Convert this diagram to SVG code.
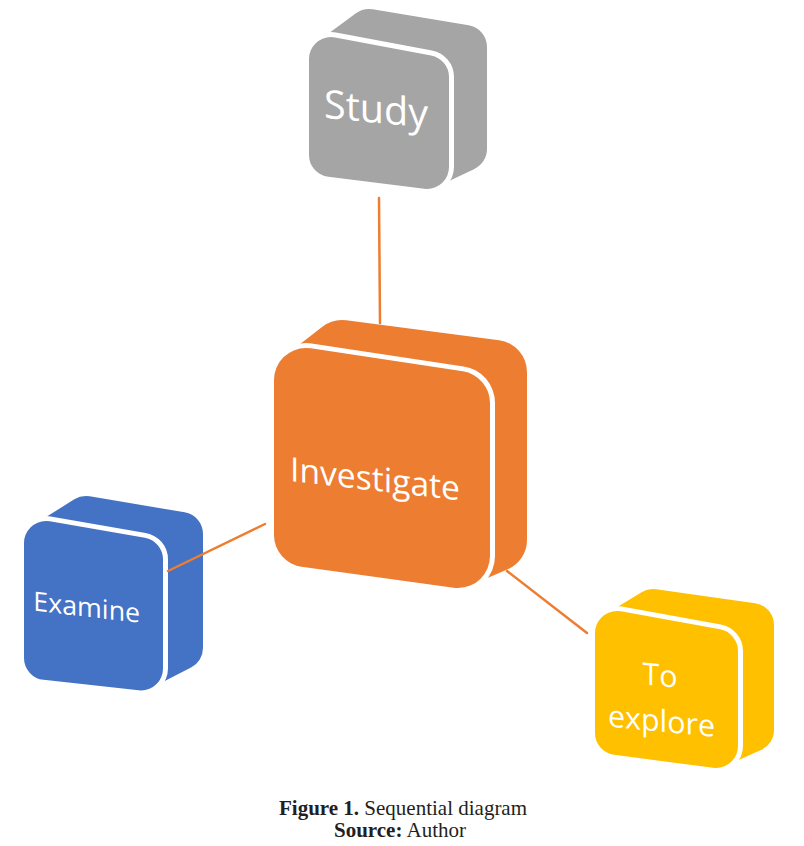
<svg xmlns="http://www.w3.org/2000/svg" width="804" height="846" viewBox="0 0 804 846">
<style>
.sh { stroke-linejoin: round; }
.gap { fill: #ffffff; stroke: #ffffff; stroke-linejoin: round; }
.gray { fill: #a5a5a5; stroke: #a5a5a5; }
.orange { fill: #ed7d31; stroke: #ed7d31; }
.blue { fill: #4472c4; stroke: #4472c4; }
.gold { fill: #ffc000; stroke: #ffc000; }
.lbl { font-family: "Open Sans", "Noto Sans", sans-serif; fill: #ffffff; text-anchor: middle; }
.conn { stroke: #ed7d31; stroke-width: 2.5; fill: none; stroke-linecap: round; }
.cap { font-family: "Liberation Serif", "Times New Roman", serif; font-size: 21px; fill: #231f20; text-anchor: middle; }
</style>
<rect width="804" height="846" fill="#ffffff"/>

<g id="node-study">
  <polygon class="sh gray" stroke-width="44" points="331,59 369,31 465,47 465,149 427,167 331,155"/>
  <polygon class="gap" stroke-width="54" points="331,59 427,77 427,167 331,155"/>
  <polygon class="sh gray" stroke-width="44" points="331,59 427,77 427,167 331,155"/>
  <text class="lbl" font-size="39.5" transform="translate(376,122.7) skewY(5.5)">Study</text>
</g>

<g id="node-investigate">
  <polygon class="sh orange" stroke-width="64" points="306,380 342,352 495,372 495,540 458,556 306,535"/>
  <polygon class="gap" stroke-width="74" points="306,380 458,403 458,556 306,535"/>
  <polygon class="sh orange" stroke-width="64" points="306,380 458,403 458,556 306,535"/>
  <text class="lbl" font-size="33.6" transform="translate(375,490.7) skewY(6.5)">Investigate</text>
</g>

<g id="node-examine">
  <polygon class="sh blue" stroke-width="44" points="46,543 86,518 181,534 181,648 141,668.5 46,658"/>
  <polygon class="gap" stroke-width="54" points="46,543 141,559.5 141,668.5 46,658"/>
  <polygon class="sh blue" stroke-width="44" points="46,543 141,559.5 141,668.5 46,658"/>
  <text class="lbl" font-size="26.8" transform="translate(86.7,616.7) skewY(6.5)">Examine</text>
</g>

<g id="node-explore">
  <polygon class="sh gold" stroke-width="44" points="617,633 653,611 752,625 752,730 716,746 617,733"/>
  <polygon class="gap" stroke-width="54" points="617,633 716,651 716,746 617,733"/>
  <polygon class="sh gold" stroke-width="44" points="617,633 716,651 716,746 617,733"/>
  <text class="lbl" font-size="30.4" transform="translate(660,686) skewY(5.5)">To</text>
  <text class="lbl" font-size="30.4" transform="translate(661.5,731.7) skewY(5.5)">explore</text>
</g>

<g id="connectors">
  <line class="conn" x1="379" y1="198" x2="380" y2="323"/>
  <line class="conn" x1="168" y1="571" x2="265" y2="524"/>
  <line class="conn" x1="507" y1="571" x2="587" y2="633"/>
</g>

<g id="caption">
  <text class="cap" x="403" y="815"><tspan font-weight="bold">Figure 1.</tspan> Sequential diagram</text>
  <text class="cap" x="400" y="837"><tspan font-weight="bold">Source:</tspan> Author</text>
</g>
</svg>
